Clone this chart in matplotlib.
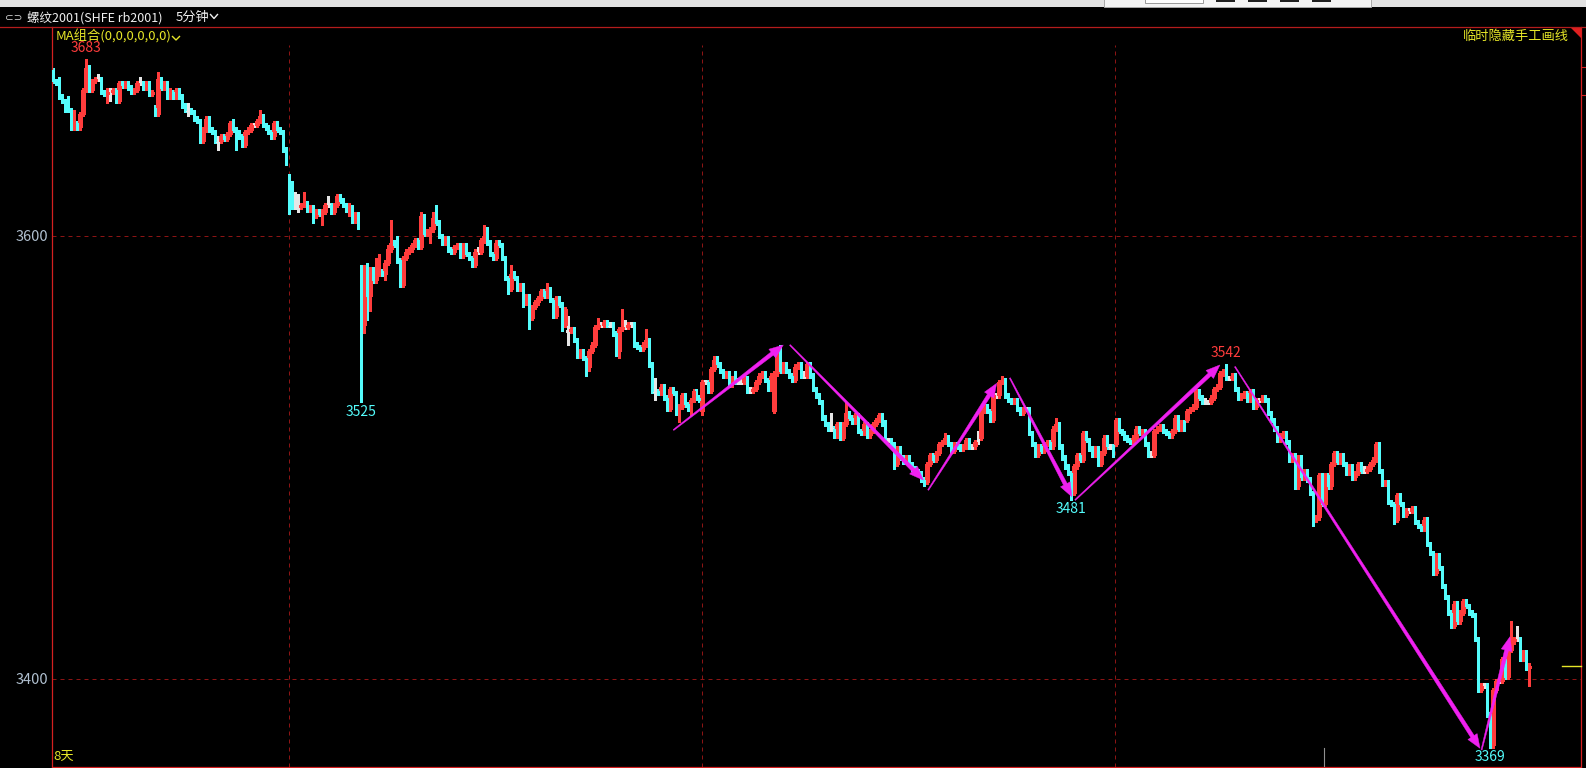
import matplotlib
matplotlib.use("Agg")
import matplotlib.pyplot as plt
from matplotlib.patches import Rectangle, Polygon
from matplotlib.collections import LineCollection, PatchCollection
from matplotlib import transforms
import numpy as np

plt.rcParams['font.family'] = ['Noto Sans CJK SC', 'DejaVu Sans']

# ---------------- data ----------------
closes = [
    3670, 3669, 3663, 3661, 3659, 3657, 3649, 3651, 3649, 3655,
    3666, 3676, 3666, 3670, 3671, 3671, 3665, 3664, 3665, 3665,
    3666, 3661, 3669, 3668, 3669, 3667, 3665, 3666, 3669, 3669,
    3667, 3669, 3664, 3665, 3655, 3671, 3667, 3669, 3663, 3665,
    3663, 3666, 3663, 3659, 3657, 3657, 3656, 3653, 3652, 3643,
    3648, 3653, 3648, 3647, 3643, 3643, 3645, 3644, 3646, 3651,
    3648, 3647, 3645, 3641, 3647, 3648, 3650, 3650, 3652, 3654,
    3650, 3649, 3647, 3645, 3651, 3648, 3647, 3639, 3633, 3624,
    3613, 3613, 3613, 3614, 3615, 3612, 3613, 3609, 3611, 3610,
    3611, 3614, 3614, 3611, 3614, 3618, 3616, 3614, 3612, 3613,
    3607, 3610, 3604, 3560, 3586, 3573, 3585, 3580, 3583, 3584,
    3583, 3588, 3594, 3597, 3596, 3589, 3578, 3590, 3593, 3594,
    3596, 3598, 3595, 3609, 3601, 3602, 3603, 3608, 3606, 3600,
    3597, 3599, 3594, 3593, 3595, 3596, 3591, 3596, 3592, 3590,
    3587, 3593, 3593, 3598, 3600, 3597, 3592, 3590, 3597, 3596,
    3590, 3581, 3576, 3583, 3581, 3576, 3578, 3570, 3573, 3563,
    3568, 3570, 3572, 3575, 3573, 3576, 3571, 3564, 3572, 3569,
    3560, 3567, 3557, 3558, 3553, 3546, 3548, 3545, 3541, 3548,
    3551, 3559, 3560, 3560, 3561, 3560, 3560, 3556, 3548, 3558,
    3559, 3559, 3560, 3560, 3551, 3550, 3549, 3551, 3553, 3542,
    3530, 3530, 3529, 3532, 3527, 3522, 3531, 3529, 3522, 3523,
    3528, 3524, 3522, 3526, 3530, 3527, 3526, 3534, 3534, 3530,
    3540, 3544, 3542, 3539, 3537, 3538, 3533, 3536, 3534, 3534,
    3534, 3536, 3530, 3530, 3531, 3534, 3537, 3538, 3535, 3531,
    3537, 3538, 3548, 3539, 3542, 3539, 3537, 3535, 3541, 3542,
    3537, 3537, 3542, 3537, 3531, 3528, 3525, 3518, 3515, 3513,
    3513, 3510, 3515, 3509, 3515, 3520, 3518, 3516, 3519, 3512,
    3511, 3515, 3510, 3512, 3515, 3517, 3519, 3515, 3508, 3508,
    3506, 3497, 3504, 3500, 3498, 3500, 3497, 3495, 3494, 3493,
    3490, 3489, 3497, 3501, 3499, 3502, 3506, 3507, 3509, 3506,
    3503, 3506, 3505, 3504, 3505, 3508, 3505, 3505, 3507, 3507,
    3521, 3523, 3521, 3517, 3528, 3528, 3534, 3535, 3528, 3526,
    3525, 3526, 3522, 3520, 3522, 3522, 3511, 3506, 3501, 3505,
    3503, 3506, 3507, 3505, 3513, 3515, 3505, 3500, 3496, 3493,
    3484, 3496, 3501, 3499, 3511, 3508, 3504, 3501, 3504, 3497,
    3502, 3509, 3505, 3505, 3501, 3517, 3512, 3511, 3509, 3508,
    3507, 3509, 3513, 3511, 3512, 3506, 3501, 3501, 3512, 3513,
    3514, 3512, 3511, 3510, 3512, 3518, 3513, 3516, 3513, 3521,
    3522, 3523, 3530, 3527, 3525, 3525, 3525, 3527, 3531, 3532,
    3538, 3539, 3536, 3536, 3537, 3531, 3527, 3528, 3529, 3526,
    3530, 3523, 3526, 3526, 3527, 3526, 3520, 3517, 3513, 3508,
    3510, 3511, 3507, 3499, 3501, 3487, 3500, 3491, 3494, 3490,
    3484, 3472, 3473, 3492, 3479, 3492, 3487, 3497, 3502, 3498,
    3501, 3497, 3493, 3496, 3491, 3493, 3497, 3494, 3494, 3495,
    3497, 3499, 3506, 3494, 3488, 3489, 3480, 3479, 3472, 3483,
    3479, 3474, 3476, 3476, 3477, 3471, 3469, 3468, 3472, 3461,
    3457, 3448, 3456, 3450, 3442, 3437, 3430, 3424, 3434, 3426,
    3430, 3435, 3433, 3430, 3429, 3418, 3395, 3397, 3397, 3384,
    3370, 3395, 3399, 3399, 3409, 3401, 3413, 3417, 3418, 3418,
    3409, 3412, 3405, 3406,
]

# opens equal previous close except at session openings / gaps
gap_opens = {0: 3675, 34: 3658, 79: 3627, 103: 3586, 172: 3557, 217: 3521,
             241: 3521, 310: 3509, 355: 3506, 379: 3517}

# wick lengths (price units) above / below the body, one digit per bar
up_wick_str = (
    "1131141611" "1411121122" "1111111113" "1111131112" "1111131111"
    "1111121111" "2111111113" "1111111111" "1761511111" "1141111112"
    "1111121178" "1129141111" "1112111361" "1111111111" "1121541111"
    "1114111111" "1111131111" "1171111111" "1131111111" "8311111151"
    "1611111111" "1111111111" "1221111132" "2112111111" "1113111111"
    "1211111111" "7111151111" "1111111121" "1111111111" "1111111121"
    "1111111115" "1111111211" "1111111111" "1111131111" "1111111111"
    "1111111111" "1111111211" "1111111111" "1111121111" "1131111111"
    "1111111111" "1111111111" "1111111111" "1111111121" "1111111111"
    "1111111111" "1111111111" "1111111111" "1111111916" "1111"
)
dn_wick_str = (
    "1111311111" "1111111144" "1111111111" "1111111111" "1111131111"
    "1111141111" "1811111111" "1111111119" "1121111311" "5111111113"
    "1119497111" "1311111111" "1111115111" "1111111111" "1111111111"
    "1121111215" "1111111111" "3161111142" "1111111123" "1111111111"
    "1411111136" "1113111211" "1111111111" "1111111111" "1111111111"
    "1111111111" "1111111111" "1111111111" "1211111111" "1211111111"
    "1111111111" "1111111111" "1111111111" "1111111111" "3111111111"
    "1111111111" "1111111111" "1111111111" "1111111111" "1111111111"
    "1111111111" "1111111111" "1311111111" "1111111111" "1111111121"
    "1111111111" "1111111111" "1111111111" "1111111111" "1118"
)
big_up_wicks = {113: 10}
big_dn_wicks = {79: 14, 103: 35, 105: 11}

session_breaks = [79, 217, 355]
y_ticks = [3600, 3400]

marks_idx = [11, 103, 340, 392, 480]
marks_text = ['3683', '3525', '3481', '3542', '3369']
marks_side = ['top', 'bottom', 'bottom', 'top', 'bottom']

# hand-drawn trend arrows: (bar, price) start -> end
trend_lines = [
    ((207.3, 3512.4), (244.0, 3550.8)),
    ((246.2, 3550.8), (290.8, 3489.8)),
    ((292.4, 3485.3), (315.3, 3533.5)),
    ((319.7, 3535.9), (340.4, 3482.3)),
    ((341.5, 3480.8), (389.9, 3541.8)),
    ((394.9, 3541.0), (476.8, 3368.7)),
    ((477.3, 3368.0), (486.8, 3419.1)),
]

title_text = '螺纹2001(SHFE rb2001)'
period_text = '5分钟'
ma_text = 'MA组合(0,0,0,0,0,0)'
right_text = '临时隐藏手工画线'
days_text = '8天'

# ---------------- derived OHLC ----------------
N = len(closes)
up_w = [int(ch) for ch in up_wick_str]
dn_w = [int(ch) for ch in dn_wick_str]
assert len(up_w) == N and len(dn_w) == N, (N, len(up_w), len(dn_w))
for k, v in big_up_wicks.items():
    up_w[k] = v
for k, v in big_dn_wicks.items():
    dn_w[k] = v
opens = [gap_opens[i] if i in gap_opens else closes[i - 1] for i in range(N)]
highs = [max(o, c) + u for o, c, u in zip(opens, closes, up_w)]
lows = [min(o, c) - d for o, c, d in zip(opens, closes, dn_w)]

# ---------------- layout ----------------
W, H = 1586, 768
AX_L, AX_R, AX_T, AX_B = 52, 1581, 27, 767
X0_PX, BAR_PX = 53.0, 2.993
Y_REF, Y_REF_PX, PX_PER = 3600.0, 236.0, 2.215

RED = '#ff3c3c'
CYAN = '#54fcfc'
WHITE = '#e6e6e6'
MAG = '#f020f0'
YEL = '#e6e628'
GRID = '#8c1414'
BORDER = '#d42020'

fig = plt.figure(figsize=(W / 100, H / 100), dpi=100, facecolor='black')
ax = fig.add_axes([AX_L / W, 1 - AX_B / H, (AX_R - AX_L) / W, (AX_B - AX_T) / H], zorder=1)
ax.set_facecolor('black')
ax.patch.set_alpha(0)
ax.set_xlim((AX_L - X0_PX) / BAR_PX, (AX_R - X0_PX) / BAR_PX)
ax.set_ylim(Y_REF - (AX_B - Y_REF_PX) / PX_PER, Y_REF + (Y_REF_PX - AX_T) / PX_PER)
ax.set_xticks([])
ax.set_yticks(y_ticks)
ax.set_yticklabels([str(t) for t in y_ticks])
ax.tick_params(axis='y', length=0, pad=3, labelsize=10.5, labelcolor='#b0c0d0')
ax.spines['top'].set_visible(False)
for s in ['left', 'right', 'bottom']:
    ax.spines[s].set_color(BORDER)
    ax.spines[s].set_linewidth(0.9)

# grid lines
for t in y_ticks:
    ax.axhline(t, color=GRID, lw=0.72, ls=(0, (4, 4)), zorder=0.5)
# session separators
blend = transforms.blended_transform_factory(ax.transData, ax.transAxes)
sep_top = (AX_B - 45) / (AX_B - AX_T)
for b in session_breaks:
    ax.plot([b - 0.3, b - 0.3], [0, sep_top], transform=blend, color=GRID,
            lw=0.72, ls=(0, (4, 4)), zorder=0.5)

# candles
bw = 0.66
wick_segs, wick_cols = [], []
red_bodies, cyan_bodies, doji_segs = [], [], []
for i in range(N):
    o, c, h, l = opens[i], closes[i], highs[i], lows[i]
    if c > o:
        red_bodies.append(Rectangle((i - bw / 2, o), bw, c - o))
        wick_segs += [[(i, l), (i, o)], [(i, c), (i, h)]]
        wick_cols += [RED, RED]
    elif c < o:
        cyan_bodies.append(Rectangle((i - bw / 2, c), bw, o - c))
        wick_segs.append([(i, l), (i, h)])
        wick_cols.append(CYAN)
    else:
        wick_segs.append([(i, l), (i, h)])
        wick_cols.append(WHITE)
        doji_segs.append([(i - 0.45, c), (i + 0.45, c)])

ax.add_collection(LineCollection(wick_segs, colors=wick_cols, linewidths=0.75,
                                 antialiaseds=False, zorder=2))
ax.add_collection(LineCollection(doji_segs, colors=WHITE, linewidths=0.75,
                                 antialiaseds=False, zorder=3))
ax.add_collection(PatchCollection(red_bodies, facecolor='black', edgecolor=RED,
                                  linewidths=0.75, antialiaseds=False, zorder=3))
ax.add_collection(PatchCollection(cyan_bodies, facecolor=CYAN, edgecolor=CYAN,
                                  linewidths=0.5, antialiaseds=False, zorder=3))

# last price marker
ax.plot([(1562 - AX_L) / (AX_R - AX_L), 1.0], [closes[-1], closes[-1]],
        transform=transforms.blended_transform_factory(ax.transAxes, ax.transData),
        color=YEL, lw=1.0, zorder=4, clip_on=False)

# extreme labels
for idx, txt, side in zip(marks_idx, marks_text, marks_side):
    if side == 'top':
        ax.annotate(txt, (idx, highs[idx]), xytext=(0, 3), textcoords='offset points',
                    ha='center', va='bottom', color=RED, fontsize=10, zorder=5)
    else:
        ax.annotate(txt, (idx, lows[idx]), xytext=(0, -2), textcoords='offset points',
                    ha='center', va='top', color=CYAN, fontsize=10, zorder=5)

# trend arrows (wedge shaped, thin at start)
inv = ax.transData.inverted()
for (xa, ya), (xb, yb) in trend_lines:
    p0 = ax.transData.transform((xa, ya))
    p1 = ax.transData.transform((xb, yb))
    d = p1 - p0
    L = np.hypot(*d)
    u = d / L
    n = np.array([-u[1], u[0]])
    hl, hw, w0, w1 = 14.0, 5.5, 1.1, 4.0
    pb = p1 - u * hl
    pts = [p0 + n * w0 / 2, pb + n * w1 / 2, pb + n * hw, p1,
           pb - n * hw, pb - n * w1 / 2, p0 - n * w0 / 2]
    pts = inv.transform(np.array(pts))
    ax.add_patch(Polygon(pts, closed=True, facecolor=MAG, edgecolor=MAG,
                         lw=0.3, zorder=6))

# ---------------- window chrome (pixel overlay) ----------------
ov = fig.add_axes([0, 0, 1, 1], zorder=3)
ov.set_xlim(0, W)
ov.set_ylim(H, 0)
ov.axis('off')
ov.patch.set_alpha(0)

ov.add_patch(Rectangle((0, 0), W, 7, facecolor='#e2e2e2', edgecolor='none'))
ov.add_patch(Rectangle((1104, -1), 267, 8, facecolor='#f4f4f4', edgecolor='#a8a8a8', lw=0.7))
ov.add_patch(Rectangle((1145, -1), 58, 3.5, facecolor='white', edgecolor='#8c8c8c', lw=0.6))
for bx in [1216, 1248, 1280, 1312]:
    ov.add_patch(Rectangle((bx, 0), 19, 1.5, facecolor='#202020', edgecolor='none'))

ov.plot([0, W], [27.3, 27.3], color='#b41c1c', lw=0.9)
ov.text(5, 17.5, '⊂⊃', color='#d8d8d8', fontsize=7.5, va='center', ha='left',
        family=['DejaVu Sans'])
ov.text(27, 17.5, title_text, color='#f0f0f0', fontsize=9, va='center', ha='left')
ov.text(176, 17.5, period_text, color='#f0f0f0', fontsize=9.5, va='center', ha='left')
ov.plot([210.5, 214, 217.5], [14.5, 18.5, 14.5], color='#f0f0f0', lw=1.0)

ov.text(56, 36.5, ma_text, color=YEL, fontsize=9.5, va='center', ha='left')
ov.plot([172.5, 176, 179.5], [36.5, 40, 36.5], color=YEL, lw=1.0)
ov.text(1569, 36.5, right_text, color=YEL, fontsize=9.5, va='center', ha='right')
ov.add_patch(Polygon([(1571, 28), (1581, 28), (1581, 38)], closed=True,
                     facecolor='#e02020', edgecolor='none'))
for ty in [67, 95]:
    ov.plot([1581, 1586], [ty, ty], color=BORDER, lw=0.8)

ov.text(53, 756, days_text, color=YEL, fontsize=9.5, va='center', ha='left')
ov.plot([1324, 1324], [748, 766], color='#909090', lw=0.8)

fig.savefig('out.png', dpi=100, facecolor='black')
